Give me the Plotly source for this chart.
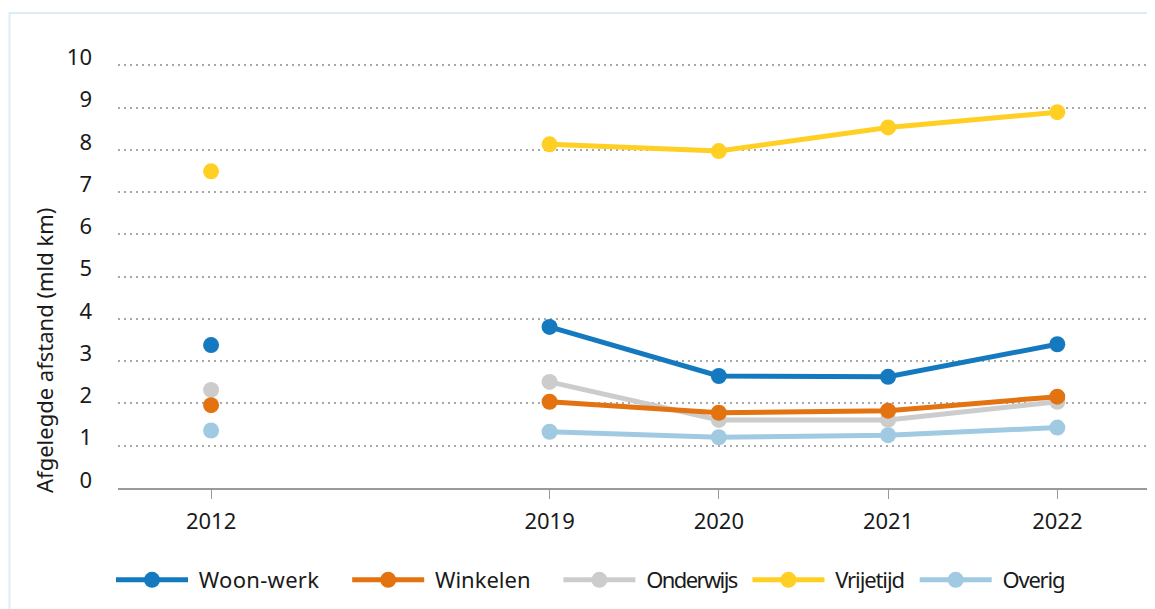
import plotly.graph_objects as go

years = ["2012", "2019", "2020", "2021", "2022"]
slots = ["2012", " ", "2019", "2020", "2021", "2022"]  # blank slot between 2012 and 2019

series_names = ["Woon-werk", "Winkelen", "Onderwijs", "Vrijetijd", "Overig"]
woon_werk = [3.38, 3.81, 2.65, 2.63, 3.40]
winkelen = [1.96, 2.04, 1.78, 1.83, 2.16]
onderwijs = [2.32, 2.51, 1.61, 1.61, 2.04]
vrijetijd = [7.49, 8.13, 7.97, 8.53, 8.89]
overig = [1.36, 1.33, 1.20, 1.25, 1.43]

colors = {
    "Woon-werk": "#1479BF",
    "Winkelen": "#E37210",
    "Onderwijs": "#CCCCCC",
    "Vrijetijd": "#FFCF24",
    "Overig": "#A0C9E2",
}
values = {
    "Woon-werk": woon_werk,
    "Winkelen": winkelen,
    "Onderwijs": onderwijs,
    "Vrijetijd": vrijetijd,
    "Overig": overig,
}
# legend text styling (letter spacing px, trailing spaces)
legend_style = {
    "Woon-werk": (0.3, 4),
    "Winkelen": (0.0, 4),
    "Onderwijs": (-1.6, 1),
    "Vrijetijd": (-1.1, 1),
    "Overig": (-1.2, 0),
}

FONT = "Noto Sans"
FS = 22
NB = "\u00a0"

fig = go.Figure()
# draw in reverse order so Woon-werk/Winkelen sit on top
for name in reversed(series_names):
    vals = values[name]
    x = [years[0], " "] + years[1:]
    y = [vals[0], None] + vals[1:]
    ls, trail = legend_style[name]
    label = NB + f'<span style="letter-spacing:{ls}px">{name}</span>' + NB * trail
    fig.add_trace(go.Scatter(
        x=x, y=y, name=label, mode="lines+markers",
        connectgaps=False,
        line=dict(color=colors[name], width=5),
        marker=dict(color=colors[name], size=16),
    ))

OFF = 8  # page body margin
W, H = 1155 - OFF, 609 - OFF
L, R, T, B = 110, 8, 56, 121
pw = W - L - R
ph = H - T - B


def px_x(p):
    return (p - OFF - L) / pw


def px_y(p):
    return (H - B - (p - OFF)) / ph


fig.update_layout(
    width=W, height=H,
    margin=dict(l=L, r=R, t=T, b=B, pad=0),
    paper_bgcolor="white", plot_bgcolor="white",
    font=dict(family=FONT, size=FS, color="#1a1a1a"),
    showlegend=True,
    legend=dict(
        orientation="h", traceorder="reversed",
        x=px_x(111), xanchor="left",
        y=px_y(580), yanchor="middle",
        itemwidth=72,
        font=dict(family=FONT, size=FS, color="#1a1a1a"),
    ),
    xaxis=dict(
        type="category", categoryorder="array", categoryarray=slots,
        tickvals=years, ticktext=years,
        range=[-0.55, 5.53],
        showgrid=False, zeroline=False,
        showline=True, linecolor="#9a9a9a", linewidth=2,
        ticks="outside", ticklen=9, tickcolor="#9a9a9a", tickwidth=1,
        ticklabelstandoff=4,
        tickfont=dict(family=FONT, size=FS, color="#1a1a1a"),
    ),
    yaxis=dict(
        range=[0, 10.03], tickvals=list(range(0, 11)),
        showgrid=True, gridcolor="#a8a8a8", gridwidth=1.5, griddash="2px,4px",
        zeroline=False, showline=False, ticks="",
        ticklabelstandoff=25, ticklabelshift=-8,
        tickfont=dict(family=FONT, size=FS, color="#1a1a1a"),
    ),
    shapes=[dict(
        type="rect", xref="paper", yref="paper",
        x0=px_x(9.5), x1=px_x(1300), y0=px_y(700), y1=px_y(13),
        line=dict(color="#DCEDF8", width=2), fillcolor="rgba(0,0,0,0)", layer="below",
    )],
    annotations=[dict(
        text="Afgelegde afstand (mld km)", textangle=-90,
        xref="paper", yref="paper", x=px_x(44), y=px_y(351),
        xanchor="center", yanchor="middle", showarrow=False,
        font=dict(family=FONT, size=FS, color="#1a1a1a"),
    )],
)

fig.write_html("out.html")
